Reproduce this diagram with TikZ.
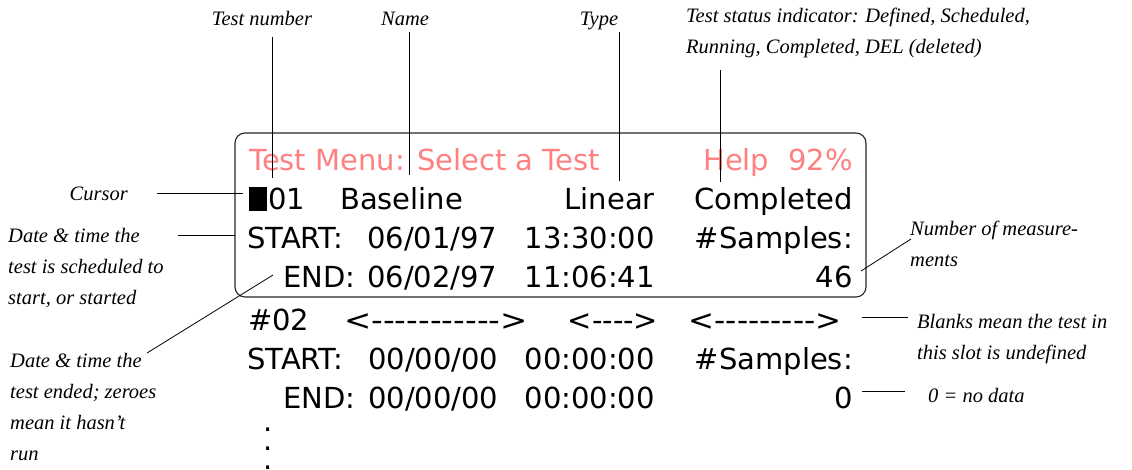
\documentclass[tikz,border=0pt]{standalone}
\usepackage{fontspec}
\usepackage{graphicx}
\newfontfamily\lcdfont{DejaVu Sans}
\newfontfamily\notefont[Ligatures=TeX]{Liberation Serif}
\definecolor{menupink}{RGB}{255,128,128}
\tikzset{
  lcd/.style={inner sep=0pt, font=\lcdfont\fontsize{29}{34}\selectfont},
  lcdl/.style={lcd, anchor=base west},
  lcdr/.style={lcd, anchor=base east},
  note/.style={inner sep=0pt, align=left, anchor=base west, font=\notefont\fontsize{20.5}{31}\selectfont\itshape},
  leader/.style={line width=0.8pt},
}

\begin{document}
\begin{tikzpicture}[x=1pt, y=-1pt]
\useasboundingbox (0,0) rectangle (1132,469);

\draw[line width=1.1pt, black!85, rounded corners=10pt] (235,133) rectangle (866,297);

\node[lcdl, text=menupink] (title) at (249,170) {Test Menu: Select a Test};
\node[lcdl, text=menupink] (help) at (703,170) {Help};
\node[lcdr, text=menupink] (pct) at (853,170) {92\%};

\fill (249,187) rectangle (267,211);
\node[lcdl] (num1) at (268,209) {01};
\node[lcdl] (name1) at (340,209) {Baseline};
\node[lcdr] (type1) at (655,209) {Linear};
\node[lcdr] (stat1) at (853,209) {Completed};

\node[lcdl] (start1) at (247,248) {START:};
\node[lcdl] (sdate1) at (367,248) {06/01/97};
\node[lcdr] (stime1) at (655,248) {13:30:00};
\node[lcdr] (samp1) at (853,248) {\#Samples:};

\node[lcdl] (end1) at (283,287) {END:};
\node[lcdl] (edate1) at (367,287) {06/02/97};
\node[lcdr] (etime1) at (655,287) {11:06:41};
\node[lcdr] (count1) at (853,287) {46};

\node[lcdl] (num2) at (248,330) {\#02};
\node[lcd, anchor=base] (name2) at (436,330) {\scalebox{1.12}[1]{<----------->}};
\node[lcd, anchor=base] (type2) at (613,330) {<---->};
\node[lcd, anchor=base] (stat2) at (765,330) {\scalebox{1.07}[1]{<--------->}};

\node[lcdl] (start2) at (247,369) {START:};
\node[lcdl] (sdate2) at (368,369) {00/00/00};
\node[lcdr] (stime2) at (655,369) {00:00:00};
\node[lcdr] (samp2) at (853,369) {\#Samples:};

\node[lcdl] (end2) at (283,408) {END:};
\node[lcdl] (edate2) at (368,408) {00/00/00};
\node[lcdr] (etime2) at (655,408) {00:00:00};
\node[lcdr] (count2) at (853,408) {0};

\node[lcd, anchor=base, align=center, font=\lcdfont\fontsize{29}{19}\selectfont] (dots) at (268,469) {.\\.\\.};

\node[note, anchor=base] (numlbl) at (262,25) {Test number};
\node[note, anchor=base] (namelbl) at (405,25) {Name};
\node[note, anchor=base] (typelbl) at (599,25) {Type};
\node[note] (statlbl) at (686,53) {Test status indicator: Defined, Scheduled,\\Running, Completed, DEL (deleted)};
\node[note, anchor=base east] (curlbl) at (128,200) {Cursor};
\node[note] (startlbl) at (8,304) {Date \& time the\\test is scheduled to\\start, or started};
\node[note] (endlbl) at (10,460) {Date \& time the\\test ended; zeroes\\mean it hasn't\\run};
\node[note] (countlbl) at (910,266) {Number of measure-\\ments};
\node[note] (blanklbl) at (917,359) {Blanks mean the test in\\this slot is undefined};
\node[note] (zerolbl) at (928,402) {0 = no data};

\coordinate (numtop) at (272,37);   \coordinate (numbot) at (272,178);
\coordinate (nametop) at (409,32);  \coordinate (namebot) at (409,175);
\coordinate (typetop) at (619,32);  \coordinate (typebot) at (619,181);
\coordinate (stattop) at (720,70);  \coordinate (statbot) at (720,182);
\coordinate (curl) at (157,193);    \coordinate (curr) at (243,193);
\coordinate (startl) at (178,235);  \coordinate (startr) at (235,235);
\coordinate (endr) at (273,275);    \coordinate (endl) at (147,353);
\coordinate (countl) at (861,271);  \coordinate (countr) at (911,239);
\coordinate (blankl) at (862,317);  \coordinate (blankr) at (908,317);
\coordinate (zerol) at (862,391);   \coordinate (zeror) at (905,391);

\draw[leader] (numtop) -- (numbot);
\draw[leader] (nametop) -- (namebot);
\draw[leader] (typetop) -- (typebot);
\draw[leader] (stattop) -- (statbot);
\draw[leader] (curl) -- (curr);
\draw[leader] (startl) -- (startr);
\draw[leader] (endr) -- (endl);
\draw[leader] (countl) -- (countr);
\draw[leader] (blankl) -- (blankr);
\draw[leader] (zerol) -- (zeror);
\end{tikzpicture}
\end{document}
